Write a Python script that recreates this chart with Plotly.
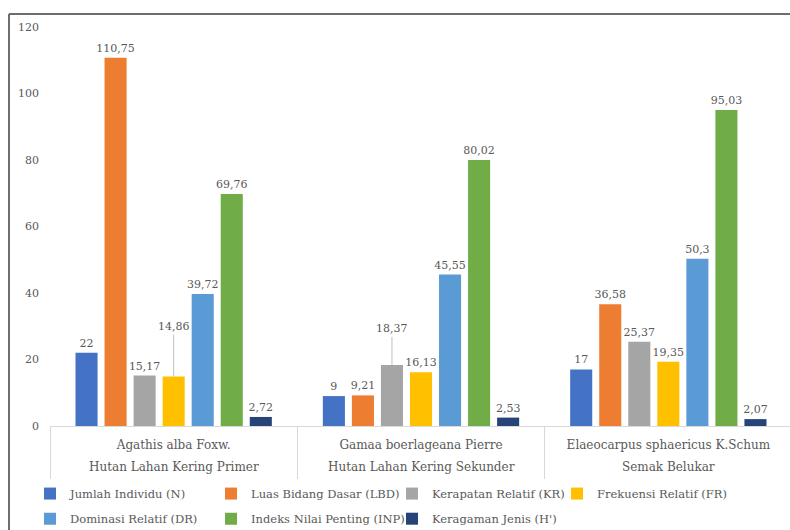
import plotly.graph_objects as go

categories = ["Agathis alba Foxw.", "Gamaa boerlageana Pierre", "Elaeocarpus sphaericus K.Schum"]
habitats = ["Hutan Lahan Kering Primer", "Hutan Lahan Kering Sekunder", "Semak Belukar"]
series_names = ["Jumlah Individu (N)", "Luas Bidang Dasar (LBD)", "Kerapatan Relatif (KR)",
                "Frekuensi Relatif (FR)", "Dominasi Relatif (DR)", "Indeks Nilai Penting (INP)",
                "Keragaman Jenis (H')"]
N = [22, 9, 17]
LBD = [110.75, 9.21, 36.58]
KR = [15.17, 18.37, 25.37]
FR = [14.86, 16.13, 19.35]
DR = [39.72, 45.55, 50.3]
INP = [69.76, 80.02, 95.03]
H = [2.72, 2.53, 2.07]
series_values = [N, LBD, KR, FR, DR, INP, H]
colors = ["#4472C4", "#ED7D31", "#A5A5A5", "#FFC000", "#5B9BD5", "#70AD47", "#264478"]
legend_of_series = ["legend", "legend", "legend", "legend2", "legend3", "legend3", "legend3"]
# labels drawn with a leader line: (series index, category index, pixel offset)
leader_labels = [(3, 0, -50), (2, 1, -36)]

def fmt(v):
    return ("%g" % v).replace(".", ",")

FONT = "DejaVu Serif"
TXT = "#595959"
bargap = 0.178

fig = go.Figure()
for i, (name, vals, col) in enumerate(zip(series_names, series_values, colors)):
    texts = []
    for j, v in enumerate(vals):
        if any(si == i and ci == j for si, ci, _ in leader_labels):
            texts.append("")
        else:
            texts.append(fmt(v))
    fig.add_trace(go.Bar(
        name=name, x=categories, y=vals, marker_color=col, marker_line_width=0,
        text=texts, textposition="outside", cliponaxis=False, constraintext="none",
        textfont=dict(family=FONT, size=11, color=TXT), legend=legend_of_series[i],
    ))

nser = len(series_names)
slot = (1 - bargap) / nser
for si, ci, off in leader_labels:
    xoff = -(1 - bargap) / 2 + slot * (si + 0.5)
    fig.add_annotation(x=ci + xoff, y=series_values[si][ci], xref="x", yref="y",
                       text=fmt(series_values[si][ci]), showarrow=True, arrowhead=0,
                       arrowwidth=1, arrowcolor="#BFBFBF", ax=0, ay=off, standoff=0,
                       font=dict(family=FONT, size=11, color=TXT))

for ci, hab in enumerate(habitats):
    fig.add_annotation(x=categories[ci], y=0, xref="x", yref="y", yshift=-41,
                       text=hab, showarrow=False,
                       font=dict(family=FONT, size=12, color=TXT))

# frame lines (left and top)
fig.add_shape(type="line", xref="paper", yref="paper", x0=(9 - 50) / 740, x1=(9 - 50) / 740,
              y0=-104 / 399, y1=1 + 13 / 399, line=dict(color="#6d6d6d", width=2))
fig.add_shape(type="line", xref="paper", yref="paper", x0=(9 - 50) / 740, x1=1.0,
              y0=1 + 13 / 399, y1=1 + 13 / 399, line=dict(color="#6d6d6d", width=2))

legfont = dict(family=FONT, size=11.5, color=TXT)
common = dict(orientation="h", xanchor="left", yanchor="top", entrywidth=136,
              entrywidthmode="pixels", itemwidth=30, font=legfont, traceorder="normal",
              bgcolor="rgba(0,0,0,0)")
fig.update_layout(
    width=790, height=530,
    margin=dict(l=50, r=0, t=27, b=104, autoexpand=False),
    paper_bgcolor="white", plot_bgcolor="white",
    barmode="group", bargap=bargap, bargroupgap=0.24,
    font=dict(family=FONT, color=TXT),
    showlegend=True,
    legend=dict(x=-0.027, y=-0.133, **common),
    legend2=dict(x=-0.027 + 527 / 740, y=-0.133, **common),
    legend3=dict(x=-0.027, y=-0.196, **common),
)
fig.update_yaxes(range=[0, 120], dtick=20, showgrid=False, zeroline=False, showline=False,
                 tickfont=dict(family=FONT, size=11, color=TXT), ticks="", ticklabelstandoff=10)
fig.update_xaxes(range=[-0.5, 2.5 - 2 / 247], showline=True, linecolor="#D9D9D9", linewidth=1,
                 ticks="outside", tickson="boundaries", ticklen=52, tickcolor="#D9D9D9",
                 tickwidth=1, ticklabelstandoff=8,
                 tickfont=dict(family=FONT, size=12, color=TXT))

fig.write_html("out.html")
